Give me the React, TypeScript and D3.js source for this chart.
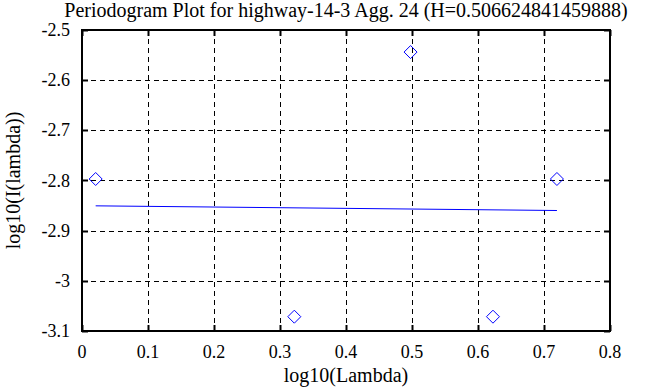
import React from "react";
import * as d3 from "d3";

const W = 668;
const H = 387;

const titleText = "Periodogram Plot for highway-14-3 Agg. 24 (H=0.506624841459888)";
const xLabelText = "log10(Lambda)";
const yLabelText = "log10(I(lambda))";

const xTicks = [0, 0.1, 0.2, 0.3, 0.4, 0.5, 0.6, 0.7, 0.8];
const xTickLabels = ["0", "0.1", "0.2", "0.3", "0.4", "0.5", "0.6", "0.7", "0.8"];
const yTicks = [-2.5, -2.6, -2.7, -2.8, -2.9, -3.0, -3.1];
const yTickLabels = ["-2.5", "-2.6", "-2.7", "-2.8", "-2.9", "-3", "-3.1"];

const pointX = [0.0207, 0.3217, 0.4978, 0.6227, 0.7196];
const pointY = [-2.797, -3.0715, -2.544, -3.0715, -2.797];

const fitX = [0.0207, 0.7196];
const fitY = [-2.8505, -2.8598];

const margin = { left: 82, right: 58, top: 30, bottom: 56 };

export default function App() {
  const x = d3.scaleLinear().domain([0, 0.8]).range([margin.left, W - margin.right]);
  const y = d3.scaleLinear().domain([-3.1, -2.5]).range([H - margin.bottom, margin.top]);
  const x0 = margin.left, x1 = W - margin.right, y0 = margin.top, y1 = H - margin.bottom;
  const font = "'Liberation Serif', 'Times New Roman', serif";
  const line = d3.line<number>().x((_, i) => x(fitX[i])).y((d) => y(d));
  const tk = 6;
  const r = 6.5;
  return (
    <svg width={W} height={H} style={{ position: "absolute", left: 0, top: 0, background: "#fff" }} fontFamily={font}>
      <rect x={0} y={0} width={W} height={H} fill="#fff" />
      {/* grid */}
      {xTicks.slice(1, -1).map((t) => (
        <line key={"gx" + t} x1={Math.round(x(t)) + 0.5} x2={Math.round(x(t)) + 0.5} y1={y0} y2={y1} stroke="#000" strokeWidth={1} strokeDasharray="5,4" />
      ))}
      {yTicks.slice(1, -1).map((t) => (
        <line key={"gy" + t} y1={Math.round(y(t)) + 0.5} y2={Math.round(y(t)) + 0.5} x1={x0} x2={x1} stroke="#000" strokeWidth={1} strokeDasharray="5,4" />
      ))}
      {/* ticks */}
      {xTicks.map((t) => (
        <g key={"tx" + t}>
          <line x1={Math.round(x(t)) + 0.5} x2={Math.round(x(t)) + 0.5} y1={y1} y2={y1 - tk} stroke="#000" strokeWidth={2} />
          <line x1={Math.round(x(t)) + 0.5} x2={Math.round(x(t)) + 0.5} y1={y0} y2={y0 + tk} stroke="#000" strokeWidth={2} />
        </g>
      ))}
      {yTicks.map((t) => (
        <g key={"ty" + t}>
          <line y1={Math.round(y(t)) + 0.5} y2={Math.round(y(t)) + 0.5} x1={x0} x2={x0 + tk} stroke="#000" strokeWidth={2} />
          <line y1={Math.round(y(t)) + 0.5} y2={Math.round(y(t)) + 0.5} x1={x1} x2={x1 - tk} stroke="#000" strokeWidth={2} />
        </g>
      ))}
      {/* frame */}
      <rect x={x0} y={y0} width={x1 - x0} height={y1 - y0} fill="none" stroke="#000" strokeWidth={2} />
      {/* fit line */}
      <path d={line(fitY) || ""} fill="none" stroke="#0000ff" strokeWidth={1} />
      {/* points */}
      {pointX.map((px, i) => {
        const cx = x(px), cy = y(pointY[i]);
        return (
          <path key={"p" + i} d={`M${cx - r},${cy} L${cx},${cy - r} L${cx + r},${cy} L${cx},${cy + r} Z`} fill="none" stroke="#0000ff" strokeWidth={1} />
        );
      })}
      {/* tick labels */}
      {xTicks.map((t, i) => (
        <text key={"lx" + t} x={x(t)} y={y1 + 27} fontSize={18} textAnchor="middle" fill="#000">{xTickLabels[i]}</text>
      ))}
      {yTicks.map((t, i) => (
        <text key={"ly" + t} x={x0 - 12} y={y(t) + 6} fontSize={18} textAnchor="end" fill="#000">{yTickLabels[i]}</text>
      ))}
      {/* labels */}
      <text x={(x0 + x1) / 2} y={17} fontSize={20} textAnchor="middle" fill="#000">{titleText}</text>
      <text x={(x0 + x1) / 2} y={382} fontSize={20} textAnchor="middle" fill="#000">{xLabelText}</text>
      <text transform={`translate(20,${(y0 + y1) / 2}) rotate(-90)`} fontSize={20} textAnchor="middle" fill="#000">{yLabelText}</text>
    </svg>
  );
}
